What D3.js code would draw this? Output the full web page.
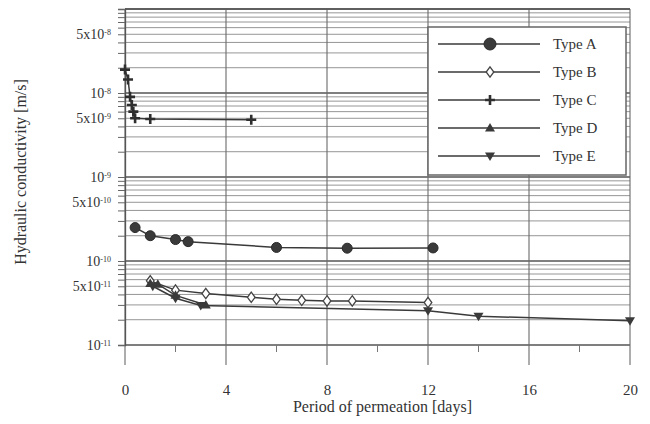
<!DOCTYPE html>
<html>
<head>
<meta charset="utf-8">
<script src="https://cdn.jsdelivr.net/npm/d3@7"></script>
<style>
  body { margin: 0; background: #fff; }
  svg { display: block; }
  text { font-family: "Liberation Serif", "DejaVu Serif", serif; fill: #333; }
</style>
</head>
<body>
<svg id="chart" width="650" height="424"></svg>
<script>
// ---------- data ----------
const seriesNames = ["Type A", "Type B", "Type C", "Type D", "Type E"];

const daysA = [0.4, 1, 2, 2.5, 6, 8.8, 12.2];
const kA    = [2.5e-10, 2.0e-10, 1.8e-10, 1.7e-10, 1.45e-10, 1.42e-10, 1.43e-10];

const daysB = [1, 2, 3.2, 5, 6, 7, 8, 9, 12];
const kB    = [5.8e-11, 4.5e-11, 4.1e-11, 3.7e-11, 3.5e-11, 3.4e-11, 3.35e-11, 3.35e-11, 3.2e-11];

const daysC = [0, 0.12, 0.2, 0.27, 0.33, 0.4, 1, 5];
const kC    = [1.9e-8, 1.45e-8, 9e-9, 7.2e-9, 6e-9, 5e-9, 4.9e-9, 4.8e-9];

const daysD = [1, 1.3, 2, 3.2];
const kD    = [5.4e-11, 5.3e-11, 3.9e-11, 3.0e-11];

const daysE = [1.1, 2, 3, 12, 14, 20];
const kE    = [5.0e-11, 3.6e-11, 2.95e-11, 2.55e-11, 2.2e-11, 1.95e-11];

const xTicks = [0, 4, 8, 12, 16, 20];
const xMinorTicks = [2, 6, 10, 14, 18];
const yTickValues = [5e-8, 1e-8, 5e-9, 1e-9, 5e-10, 1e-10, 5e-11, 1e-11];
const yTickMant   = ["5x10", "10", "5x10", "10", "5x10", "10", "5x10", "10"];
const yTickExp    = ["-8", "-8", "-9", "-9", "-10", "-10", "-11", "-11"];

const xTitle = "Period of permeation [days]";
const yTitle = "Hydraulic conductivity [m/s]";

// ---------- layout ----------
const svg = d3.select("#chart");
const L = 125, R = 630, T = 9, B = 345, gridBottom = 365;

const x = d3.scaleLinear().domain([0, 20]).range([L, R]);
const y = d3.scaleLog().domain([1e-11, 1e-7]).range([B, T]);

const ink = "#333";

// minor/major horizontal grid values
const gridVals = [];
for (let e = -11; e <= -8; e++) {
  for (let m = 1; m <= 9; m++) gridVals.push(m * Math.pow(10, e));
}
gridVals.push(1e-7);

const g = svg.append("g");

// horizontal grid
g.selectAll("line.hg").data(gridVals).enter().append("line")
  .attr("x1", L).attr("x2", R)
  .attr("y1", d => y(d)).attr("y2", d => y(d))
  .attr("stroke", d => Math.abs(Math.log10(d) - Math.round(Math.log10(d))) < 1e-9 ? "#555" : "#8a8a8a")
  .attr("stroke-width", d => Math.abs(Math.log10(d) - Math.round(Math.log10(d))) < 1e-9 ? 1.3 : 0.9);

// vertical grid (extends below as long ticks)
g.selectAll("line.vg").data(xTicks).enter().append("line")
  .attr("x1", d => x(d)).attr("x2", d => x(d))
  .attr("y1", T).attr("y2", gridBottom)
  .attr("stroke", "#6a6a6a").attr("stroke-width", 1.1);

// minor x ticks below the bottom line
g.selectAll("line.mx").data(xMinorTicks).enter().append("line")
  .attr("x1", d => x(d)).attr("x2", d => x(d))
  .attr("y1", B).attr("y2", B + 7)
  .attr("stroke", "#777").attr("stroke-width", 1);

// left axis with ticks at every grid line
const yAxisMinor = d3.axisLeft(y).tickValues(gridVals).tickSize(7).tickFormat("");
const ya = svg.append("g").attr("transform", `translate(${L},0)`).call(yAxisMinor);
ya.select(".domain").attr("stroke", "#555").attr("stroke-width", 1.3);
ya.selectAll(".tick line").attr("stroke", "#666");

// y tick labels (with superscript exponents)
const yAxisLab = d3.axisLeft(y).tickValues(yTickValues).tickSize(0).tickPadding(14).tickFormat("");
const yl = svg.append("g").attr("transform", `translate(${L},0)`).call(yAxisLab);
yl.select(".domain").remove();
yl.selectAll(".tick text").each(function (d, i) {
  const t = d3.select(this)
    .attr("font-size", 14)
    .attr("font-family", "Liberation Serif, serif")
    .attr("fill", ink)
    .attr("dy", "0.32em");
  t.text(null);
  t.append("tspan").text(yTickMant[i]);
  t.append("tspan").attr("font-size", 8).attr("dy", "-0.55em").text(yTickExp[i]);
});

// top frame line
svg.append("line").attr("x1", L).attr("x2", R).attr("y1", T).attr("y2", T)
  .attr("stroke", "#555").attr("stroke-width", 1.3);

// x axis labels
const xAxis = d3.axisBottom(x).tickValues(xTicks).tickSize(0).tickPadding(0).tickFormat(d3.format("d"));
const xa = svg.append("g").attr("transform", `translate(0,${384})`).call(xAxis);
xa.select(".domain").remove();
xa.selectAll(".tick text").attr("font-size", 15).attr("font-family", "Liberation Serif, serif")
  .attr("fill", ink).attr("dy", "0.32em").attr("y", 6);

// axis titles
svg.append("text").attr("x", (L + R) / 2 + 5).attr("y", 412)
  .attr("text-anchor", "middle").attr("font-size", 16).text(xTitle);
svg.append("text")
  .attr("transform", `translate(26,${172}) rotate(-90)`)
  .attr("text-anchor", "middle").attr("font-size", 16).text(yTitle);

// ---------- series ----------
const series = [
  { name: seriesNames[0], days: daysA, k: kA, shape: "circle" },
  { name: seriesNames[1], days: daysB, k: kB, shape: "diamond" },
  { name: seriesNames[2], days: daysC, k: kC, shape: "plus" },
  { name: seriesNames[3], days: daysD, k: kD, shape: "tri" },
  { name: seriesNames[4], days: daysE, k: kE, shape: "itri" }
];

const line = d3.line().x(d => x(d[0])).y(d => y(d[1]));

function drawMarker(sel, shape, cx, cy, big) {
  const s = big ? 1.2 : 1;
  if (shape === "circle") {
    sel.append("circle").attr("cx", cx).attr("cy", cy).attr("r", 5 * s)
      .attr("fill", "#3a3a3a").attr("stroke", "#2a2a2a").attr("stroke-width", 1);
  } else if (shape === "diamond") {
    const r = 4.5 * s;
    sel.append("path").attr("d", `M${cx},${cy - r * 1.15}L${cx + r * 0.85},${cy}L${cx},${cy + r * 1.15}L${cx - r * 0.85},${cy}Z`)
      .attr("fill", "#fff").attr("stroke", "#444").attr("stroke-width", 1.3);
  } else if (shape === "plus") {
    const r = 5 * s;
    sel.append("path").attr("d", `M${cx - r},${cy}H${cx + r}M${cx},${cy - r}V${cx + 0 * r}`)
      .attr("stroke", "none");
    sel.append("path").attr("d", `M${cx - r},${cy}H${cx + r}M${cx},${cy - r}V${cy + r}`)
      .attr("stroke", "#2f2f2f").attr("stroke-width", 2.6).attr("fill", "none");
  } else if (shape === "tri") {
    const r = 5 * s;
    sel.append("path").attr("d", `M${cx},${cy - r}L${cx + r},${cy + r * 0.7}L${cx - r},${cy + r * 0.7}Z`)
      .attr("fill", "#3a3a3a");
  } else if (shape === "itri") {
    const r = 5 * s;
    sel.append("path").attr("d", `M${cx - r},${cy - r * 0.7}L${cx + r},${cy - r * 0.7}L${cx},${cy + r}Z`)
      .attr("fill", "#3a3a3a");
  }
}

const sg = svg.append("g");
series.forEach(s => {
  const pts = s.days.map((d, i) => [d, s.k[i]]);
  sg.append("path").datum(pts).attr("d", line)
    .attr("fill", "none").attr("stroke", "#3a3a3a").attr("stroke-width", 1.5);
  const mg = sg.append("g");
  pts.forEach(p => drawMarker(mg, s.shape, x(p[0]), y(p[1]), false));
});

// ---------- legend ----------
const lg = svg.append("g");
lg.append("rect").attr("x", 428).attr("y", 27).attr("width", 198).attr("height", 148)
  .attr("fill", "#fff").attr("stroke", "#666").attr("stroke-width", 1.5);
const rowY = d3.scalePoint().domain(seriesNames).range([44, 156]);
series.forEach(s => {
  const yy = rowY(s.name);
  lg.append("line").attr("x1", 438).attr("x2", 540).attr("y1", yy).attr("y2", yy)
    .attr("stroke", "#3a3a3a").attr("stroke-width", 1.5);
  drawMarker(lg, s.shape, 490, yy, s.shape === "circle");
  lg.append("text").attr("x", 553).attr("y", yy).attr("dy", "0.35em")
    .attr("font-size", 15).text(s.name);
});
</script>
</body>
</html>
